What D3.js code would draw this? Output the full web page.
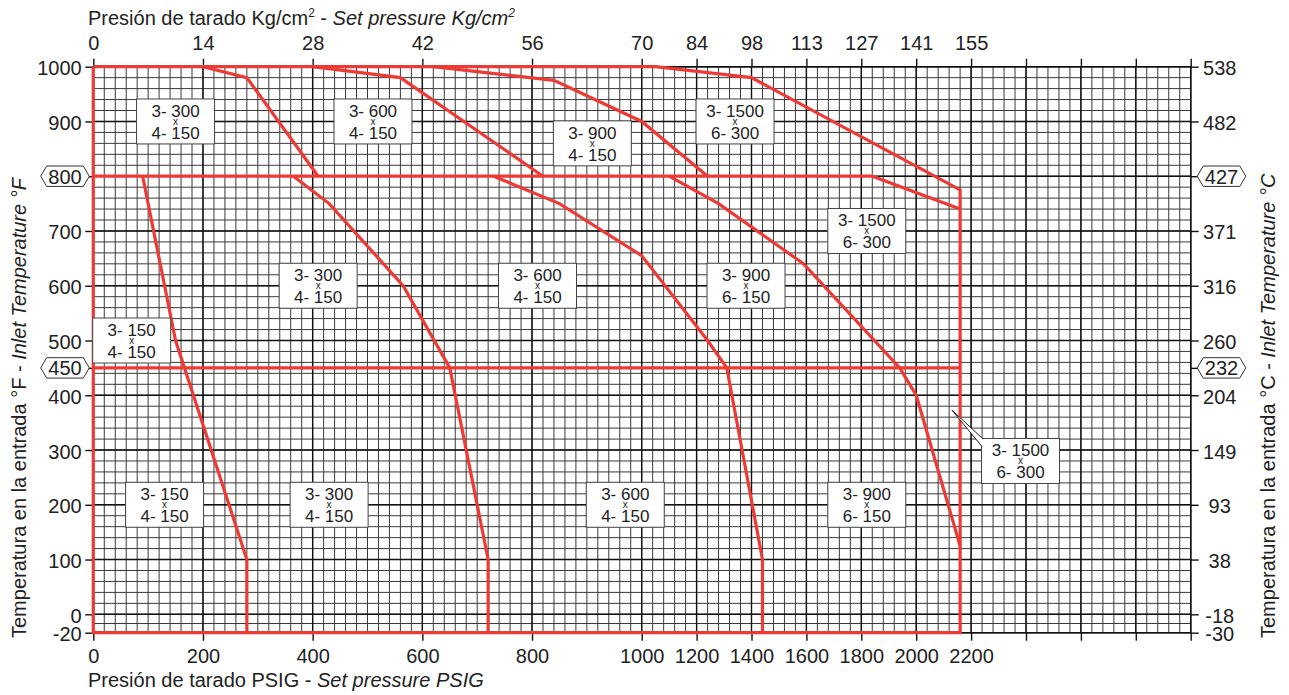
<!DOCTYPE html>
<html>
<head>
<meta charset="utf-8">
<script src="https://cdn.jsdelivr.net/npm/d3@7"></script>
<style>
  html, body { margin: 0; padding: 0; background: #fff; }
  svg { display: block; font-family: "Liberation Sans", Arial, Helvetica, sans-serif; }
</style>
</head>
<body>
<svg id="chart" width="1289" height="695"></svg>
<script>
// Pressure ticks (PSIG) with their kg/cm2 equivalents on the top axis
const psiTicks = [0, 200, 400, 600, 800, 1000, 1200, 1400, 1600, 1800, 2000, 2200];
const kgLabels = ["0", "14", "28", "42", "56", "70", "84", "98", "113", "127", "141", "155"];
const psiBlankTicks = [2400, 2600, 2800, 3000];

// Temperature ticks (°F) and their °C equivalents on the right axis
const tempF = [1000, 900, 800, 700, 600, 500, 450, 400, 300, 200, 100, 0, -20];
const tempC = ["538", "482", "427", "371", "316", "260", "232", "204", "149", "93", "38", "-18", "-30"];
const boxedF = [800, 450];

// Selection boundaries: [psig, °F]
const envelope = [[0, 1000], [1050, 1000], [1400, 980], [2160, 775], [2160, -20], [0, -20], [0, 1000]];
const limit800 = [[0, 800], [1840, 800], [2160, 740]];
const limit450 = [[0, 450], [2160, 450]];
const split300to600Hot = [[200, 1000], [280, 980], [410, 800]];
const split600to900Hot = [[400, 1000], [560, 980], [820, 800]];
const split900to1500Hot = [[620, 1000], [840, 975], [1000, 900], [1240, 800]];
const split150to300 = [[90, 800], [150, 500], [280, 100], [280, -20]];
const split300to600 = [[365, 800], [430, 750], [565, 600], [650, 450], [720, 100], [720, -20]];
const split600to900 = [[730, 800], [850, 750], [1000, 655], [1240, 500], [1310, 450], [1440, 100], [1440, -20]];
const split900to1500 = [[1100, 800], [1280, 750], [1590, 640], [1940, 450], [2000, 400], [2160, 125]];

// Flange rating labels (inlet / outlet) and where they sit
const labelInlet  = ["3- 300", "3- 600", "3- 900", "3- 1500", "3- 150", "3- 300", "3- 600", "3- 900", "3- 1500", "3- 150", "3- 300", "3- 600", "3- 900", "3- 1500"];
const labelOutlet = ["4- 150", "4- 150", "4- 150", "6- 300", "4- 150", "4- 150", "4- 150", "6- 150", "6- 300", "4- 150", "4- 150", "4- 150", "6- 150", "6- 300"];
const labelPsi    = [150, 510, 910, 1340, 70, 410, 810, 1380, 1820, 130, 430, 970, 1820, 2380];
const labelTemp   = [900, 900, 860, 900, 500, 600, 600, 600, 700, 200, 200, 200, 200, 280];
const calloutTip  = [2130, 373];

const RED = "#ee3a35";
const INK = "#222";

const svg = d3.select("#chart");

// Pressure axis is linear up to 1000 psig and compressed above it
const x = d3.scaleLinear().domain([0, 1000, 3000]).range([93.3, 641.7, 1190.7]);
const y = d3.scaleLinear().domain([-20, 0, 1000]).range([632.7, 614.3, 66.7]);

const [x0, x1] = [x(0), x(3000)];
const [yTop, yBot] = [y(1000), y(-20)];

// ---- grid ----
const grid = svg.append("g");
const vMinor = d3.range(0, 1000, 20).concat(d3.range(1000, 3001, 40));
const hMinor = d3.range(0, 1001, 20).concat([-10]);
grid.selectAll(".vm").data(vMinor).join("line")
  .attr("x1", d => x(d)).attr("x2", d => x(d)).attr("y1", yTop).attr("y2", yBot)
  .attr("stroke", "#3a3a3a").attr("stroke-width", 1);
grid.selectAll(".hm").data(hMinor).join("line")
  .attr("y1", d => y(d)).attr("y2", d => y(d)).attr("x1", x0).attr("x2", x1)
  .attr("stroke", "#3a3a3a").attr("stroke-width", 1);
const vMajor = psiTicks.concat(psiBlankTicks);
grid.selectAll(".vM").data(vMajor).join("line")
  .attr("x1", d => x(d)).attr("x2", d => x(d)).attr("y1", yTop).attr("y2", yBot)
  .attr("stroke", "#111").attr("stroke-width", 1.4);
grid.selectAll(".hM").data(d3.range(0, 1001, 100).concat([-20])).join("line")
  .attr("y1", d => y(d)).attr("y2", d => y(d)).attr("x1", x0).attr("x2", x1)
  .attr("stroke", "#111").attr("stroke-width", 1.4);

// ---- axes ----
function styleAxis(g) {
  g.select(".domain").remove();
  g.selectAll(".tick line").attr("stroke", "#111").attr("stroke-width", 1.4);
  g.selectAll(".tick text").attr("fill", INK).style("font-size", "20px");
}
const allPsi = psiTicks.concat(psiBlankTicks);
svg.append("g").attr("transform", `translate(0,${yBot})`)
  .call(d3.axisBottom(x).tickValues(allPsi).tickSize(8).tickPadding(8)
    .tickFormat(d => psiTicks.includes(d) ? String(d) : ""))
  .call(styleAxis);
svg.append("g").attr("transform", `translate(0,${yTop})`)
  .call(d3.axisTop(x).tickValues(allPsi).tickSize(8).tickPadding(9)
    .tickFormat(d => { const i = psiTicks.indexOf(d); return i >= 0 ? kgLabels[i] : ""; }))
  .call(styleAxis);
svg.append("g").attr("transform", `translate(${x0},0)`)
  .call(d3.axisLeft(y).tickValues(tempF).tickSize(8).tickPadding(3.6)
    .tickFormat(d => boxedF.includes(d) ? "" : String(d)))
  .call(styleAxis)
  .call(g => g.selectAll(".tick text").attr("dy", "0.4em"));
svg.append("g").attr("transform", `translate(${x1},0)`)
  .call(d3.axisRight(y).tickValues(tempF).tickSize(8)
    .tickFormat((d, i) => boxedF.includes(d) ? "" : tempC[i]))
  .call(styleAxis)
  .call(g => g.selectAll(".tick text").attr("x", 29).attr("text-anchor", "middle").attr("dy", "0.4em"));

// Outer frame of the grid
svg.append("rect").attr("x", x0).attr("y", yTop).attr("width", x1 - x0).attr("height", yBot - yTop)
  .attr("fill", "none").attr("stroke", "#111").attr("stroke-width", 1.4);

// ---- boundaries ----
const line = d3.line().x(d => x(d[0])).y(d => y(d[1]));
const bounds = [envelope, limit800, limit450, split300to600Hot, split600to900Hot, split900to1500Hot,
  split150to300, split300to600, split600to900, split900to1500];
svg.append("g").selectAll("path").data(bounds).join("path")
  .attr("d", line).attr("fill", "none").attr("stroke", RED)
  .attr("stroke-width", 3.2).attr("stroke-linejoin", "miter");

// ---- hexagon markers for 800 °F / 450 °F ----
function hexLabel(cx, cy, text) {
  const w = 48.6, h = 20.4, p = 6;
  const g = svg.append("g").attr("transform", `translate(${cx},${cy})`);
  g.append("path")
    .attr("d", `M${-w/2},0 L${-w/2+p},${-h/2} L${w/2-p},${-h/2} L${w/2},0 L${w/2-p},${h/2} L${-w/2+p},${h/2} Z`)
    .attr("fill", "#fff").attr("stroke", "#333").attr("stroke-width", 1);
  g.append("text").attr("text-anchor", "middle").attr("y", 7.5)
    .attr("fill", INK).style("font-size", "20px").text(text);
}
boxedF.forEach(f => {
  const i = tempF.indexOf(f);
  hexLabel(65, y(f), String(f));
  hexLabel(1221.5, y(f), tempC[i]);
});

// ---- rating labels ----
const BW = 78, BH = 45;
const labels = svg.append("g");
labelInlet.forEach((inlet, i) => {
  const cx = x(labelPsi[i]), cy = y(labelTemp[i]);
  const left = cx - BW / 2, top = cy - BH / 2;
  const g = labels.append("g");
  g.append("rect").attr("x", left).attr("y", top).attr("width", BW).attr("height", BH)
    .attr("fill", "#fff").attr("stroke", "#444").attr("stroke-width", 1);
  if (i === labelInlet.length - 1) {
    // pointer from the callout box to the boundary line
    const tx = x(calloutTip[0]), ty = y(calloutTip[1]);
    g.append("path")
      .attr("d", `M${left + 1.5},${top + 0.5} L${tx},${ty} L${left + 0.5},${top + 8}`)
      .attr("fill", "#fff").attr("stroke", "#222").attr("stroke-width", 1);
  }
  g.append("text").attr("x", cx).attr("y", top + 17.7).attr("text-anchor", "middle")
    .attr("fill", INK).style("font-size", "17px").text(inlet);
  g.append("text").attr("x", cx).attr("y", top + 40).attr("text-anchor", "middle")
    .attr("fill", INK).style("font-size", "17px").text(labelOutlet[i]);
  g.append("text").attr("x", cx).attr("y", top + 26).attr("text-anchor", "middle")
    .attr("fill", INK).style("font-size", "10px").text("x");
});

// ---- axis titles ----
const topTitle = svg.append("text").attr("x", 88).attr("y", 25).attr("fill", INK).style("font-size", "20px");
topTitle.append("tspan").text("Presión de tarado Kg/cm");
topTitle.append("tspan").attr("dy", -8).style("font-size", "12px").text("2");
topTitle.append("tspan").attr("dy", 8).text(" - ");
topTitle.append("tspan").style("font-style", "italic").text("Set pressure Kg/cm");
topTitle.append("tspan").attr("dy", -8).style("font-size", "12px").style("font-style", "italic").text("2");

const botTitle = svg.append("text").attr("x", 88).attr("y", 687).attr("fill", INK).style("font-size", "20px");
botTitle.append("tspan").text("Presión de tarado PSIG - ");
botTitle.append("tspan").style("font-style", "italic").text("Set pressure PSIG");

function sideTitle(bx, unit) {
  const t = svg.append("text").attr("transform", `translate(${bx},638) rotate(-90)`)
    .attr("fill", INK).style("font-size", "20px");
  t.append("tspan").text(`Temperatura en la entrada °${unit} - `);
  t.append("tspan").style("font-style", "italic").text(`Inlet Temperature °${unit}`);
}
sideTitle(26, "F");
sideTitle(1275, "C");
</script>
</body>
</html>
